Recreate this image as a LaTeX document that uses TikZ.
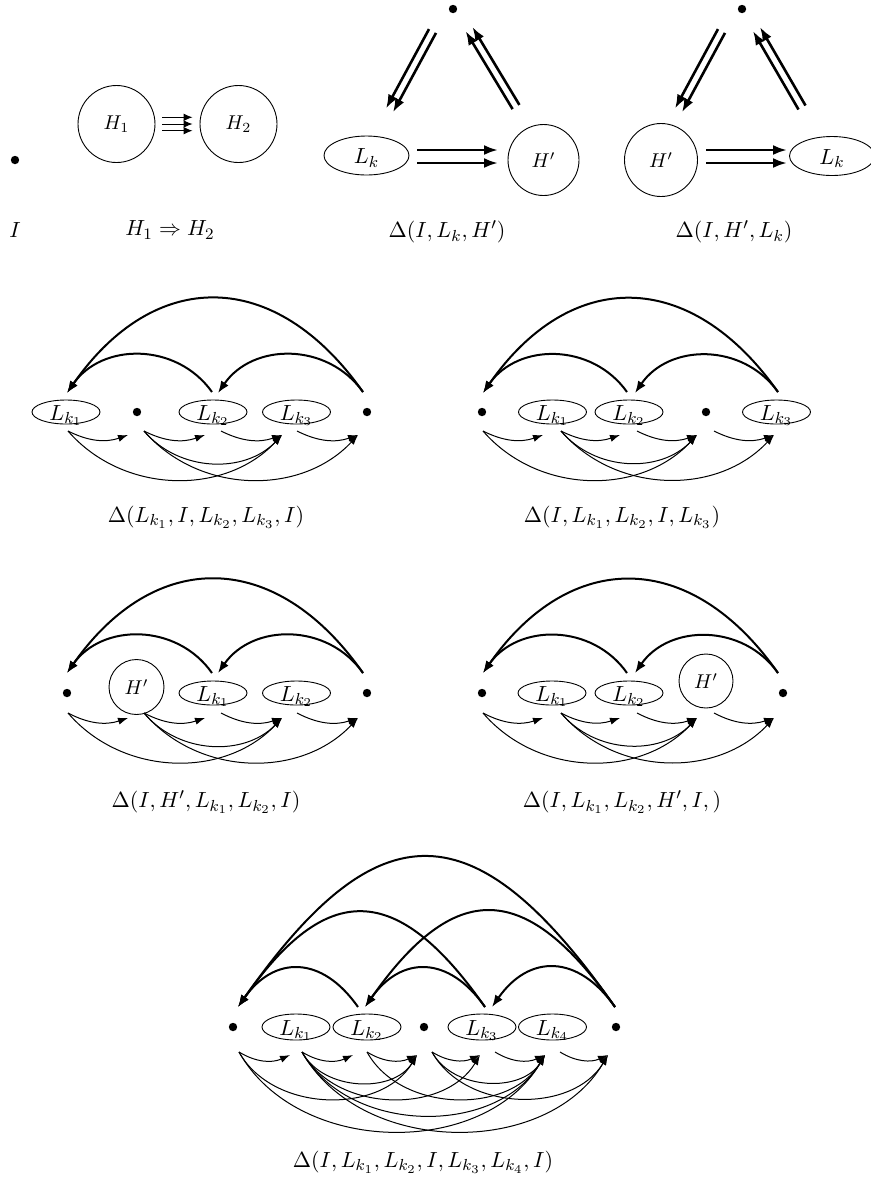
\documentclass[tikz,border=0pt]{standalone}
\usetikzlibrary{shapes.geometric,arrows.meta}
\newcommand{\mkp}[3]{\coordinate (#1#2) at ([shift={(#3)}]#1.center);}
\newcommand{\Lk}[1]{$L_{k_{#1}}$}
\begin{document}
\begin{tikzpicture}[x=0.5pt,y=0.5pt,
  dot/.style={circle,fill=black,inner sep=0pt,minimum size=4.2pt},
  hc/.style={circle,draw,inner sep=0pt,line width=0.45pt},
  le/.style={ellipse,draw,inner sep=0pt,line width=0.45pt,text height=8pt,text depth=0pt,font=\fontsize{10.95}{13.6}\selectfont},
  les/.style={le,minimum width=34pt,minimum height=12pt},
  lbl/.style={font=\fontsize{10.95}{13.6}\selectfont},
  thk/.style={line width=1pt,-{Latex[length=6pt,width=4.5pt]}},
  thn/.style={line width=0.5pt,-{Latex[length=5pt,width=3.6pt]}},
  dbl/.style={line width=1.3pt,-{Latex[length=7pt,width=5pt]}},
  tri/.style={line width=0.5pt,-{Latex[length=4.5pt,width=3.8pt]}},
]
\path[use as bounding box] (0,0) rectangle (871,-1180);

% ---------- top row ----------
\node[dot] (i0) at (15,-160) {};
\node[lbl] (li0) at (15,-230) {$I$};
\node[hc,minimum size=38.5pt] (h1) at (116.5,-124) {$H_1$};
\node[hc,minimum size=38.5pt] (h2) at (238.5,-124) {$H_2$};
\foreach \d in {6.7,0,-6.7} \draw[tri] ([shift={(7,\d)}]h1.east) -- ([shift={(-7,\d)}]h2.west);
\node[lbl] (lh) at (170,-230) {$H_1 \Rightarrow H_2$};

% triangle 1
\node[dot] (t1) at (453,-9) {};
\node[le,minimum width=42.5pt,minimum height=19.5pt] (a1) at (366.5,-155.5) {$L_k$};
\node[hc,minimum size=35.5pt] (b1) at (543.5,-160) {$H'$};
\draw[dbl] ([shift={(-24.0,-20.1)}]t1.center) -- ([shift={(19.5,46.9)}]a1.center);
\draw[dbl] ([shift={(-17.0,-23.9)}]t1.center) -- ([shift={(26.5,43.1)}]a1.center);
\draw[dbl] ([shift={(50.5,5.5)}]a1.center) -- ([shift={(-45.5,10)}]b1.center);
\draw[dbl] ([shift={(50.5,-7.5)}]a1.center) -- ([shift={(-45.5,-3)}]b1.center);
\draw[dbl] ([shift={(-30.9,50.9)}]b1.center) -- ([shift={(12.6,-22.1)}]t1.center);
\draw[dbl] ([shift={(-24.1,55.1)}]b1.center) -- ([shift={(19.4,-17.9)}]t1.center);
\node[lbl] (lt1) at (447,-232) {$\Delta(I,L_k,H')$};

% triangle 2
\node[dot] (t2) at (742,-9) {};
\node[hc,minimum size=36.5pt] (b2) at (661,-160) {$H'$};
\node[le,minimum width=42.5pt,minimum height=19.5pt] (a2) at (832,-156) {$L_k$};
\draw[dbl] ([shift={(-24.0,-20.1)}]t2.center) -- ([shift={(14.0,51.4)}]b2.center);
\draw[dbl] ([shift={(-17.0,-23.9)}]t2.center) -- ([shift={(21.0,47.6)}]b2.center);
\draw[dbl] ([shift={(45,10)}]b2.center) -- ([shift={(-45,6)}]a2.center);
\draw[dbl] ([shift={(45,-3)}]b2.center) -- ([shift={(-45,-7)}]a2.center);
\draw[dbl] ([shift={(-33.5,46.5)}]a2.center) -- ([shift={(11.0,-22.0)}]t2.center);
\draw[dbl] ([shift={(-26.5,50.5)}]a2.center) -- ([shift={(18.0,-18.0)}]t2.center);
\node[lbl] (lt2) at (734,-232) {$\Delta(I,H',L_k)$};

% ---------- row 2 left ----------
\node[les] (p0) at (66,-412) {\Lk1};
\node[dot] (p1) at (137,-412) {};
\node[les] (p2) at (213,-412) {\Lk2};
\node[les] (p3) at (296.5,-412) {\Lk3};
\node[dot] (p4) at (367,-412) {};
\mkp{p0}{s}{2,-19}\mkp{p1}{s}{7,-19}\mkp{p2}{s}{8,-19}\mkp{p3}{s}{0.5,-19}
\mkp{p1}{t}{-9,-23}\mkp{p2}{t}{-8,-23}\mkp{p3}{t}{-14.5,-23}\mkp{p4}{t}{-9,-23}
\mkp{p2}{u}{-1,20}\mkp{p4}{u}{-4,20}
\mkp{p0}{v}{1,19}\mkp{p2}{v}{5,19}
\draw[thn] (p0s) to[bend right=23] (p1t);
\draw[thn] (p1s) to[bend right=23] (p2t);
\draw[thn] (p2s) to[bend right=23] (p3t);
\draw[thn] (p3s) to[bend right=23] (p4t);
\draw[thn] (p0s) to[bend right=48] (p3t);
\draw[thn] (p1s) to[bend right=48] (p3t);
\draw[thn] (p1s) to[bend right=48] (p4t);
\draw[thk] (p2u) to[bend right=55,looseness=1.08] (p0v);
\draw[thk] (p4u) to[bend right=55,looseness=1.08] (p2v);
\draw[thk] (p4u) to[bend right=55,looseness=1.32] (p0v);
\node[lbl] (lp) at (206,-517) {$\Delta(L_{k_1},I,L_{k_2},L_{k_3},I)$};

% ---------- row 2 right ----------
\node[dot] (q0) at (482,-412) {};
\node[les] (q1) at (552.5,-412) {\Lk1};
\node[les] (q2) at (629,-412) {\Lk2};
\node[dot] (q3) at (706,-412) {};
\node[les] (q4) at (776.5,-412) {\Lk3};
\mkp{q0}{s}{1,-19}\mkp{q1}{s}{8.5,-19}\mkp{q2}{s}{8,-19}\mkp{q3}{s}{8,-19}
\mkp{q1}{t}{-9.5,-23}\mkp{q2}{t}{-9,-23}\mkp{q3}{t}{-9,-23}\mkp{q4}{t}{-2.5,-23}
\mkp{q2}{u}{-2,20}\mkp{q4}{u}{1.5,20}
\mkp{q0}{v}{1,19}\mkp{q2}{v}{6,19}
\draw[thn] (q0s) to[bend right=23] (q1t);
\draw[thn] (q1s) to[bend right=23] (q2t);
\draw[thn] (q2s) to[bend right=23] (q3t);
\draw[thn] (q3s) to[bend right=23] (q4t);
\draw[thn] (q0s) to[bend right=48] (q3t);
\draw[thn] (q1s) to[bend right=48] (q3t);
\draw[thn] (q1s) to[bend right=48] (q4t);
\draw[thk] (q2u) to[bend right=55,looseness=1.08] (q0v);
\draw[thk] (q4u) to[bend right=55,looseness=1.08] (q2v);
\draw[thk] (q4u) to[bend right=55,looseness=1.32] (q0v);
\node[lbl] (lq) at (622,-517) {$\Delta(I,L_{k_1},L_{k_2},I,L_{k_3})$};

% ---------- row 3 left ----------
\node[dot] (r0) at (67,-693) {};
\node[hc,minimum size=27.5pt] (r1) at (136.5,-687) {$H'$};
\node[les] (r2) at (213,-693) {\Lk1};
\node[les] (r3) at (296.5,-693) {\Lk2};
\node[dot] (r4) at (367,-693) {};
\mkp{r0}{s}{1,-20}\mkp{r1}{s}{7.5,-26}\mkp{r2}{s}{8,-20}\mkp{r3}{s}{0.5,-20}
\mkp{r1}{t}{-8.5,-31}\mkp{r2}{t}{-8,-25}\mkp{r3}{t}{-14.5,-25}\mkp{r4}{t}{-9,-25}
\mkp{r2}{u}{-1,20}\mkp{r4}{u}{-4,20}
\mkp{r0}{v}{0,20}\mkp{r2}{v}{5,20}
\draw[thn] (r0s) to[bend right=23] (r1t);
\draw[thn] (r1s) to[bend right=23] (r2t);
\draw[thn] (r2s) to[bend right=23] (r3t);
\draw[thn] (r3s) to[bend right=23] (r4t);
\draw[thn] (r0s) to[bend right=48] (r3t);
\draw[thn] (r1s) to[bend right=48] (r3t);
\draw[thn] (r1s) to[bend right=48] (r4t);
\draw[thk] (r2u) to[bend right=55,looseness=1.08] (r0v);
\draw[thk] (r4u) to[bend right=55,looseness=1.08] (r2v);
\draw[thk] (r4u) to[bend right=55,looseness=1.32] (r0v);
\node[lbl] (lr) at (206,-802) {$\Delta(I,H',L_{k_1},L_{k_2},I)$};

% ---------- row 3 right ----------
\node[dot] (s0) at (482,-693) {};
\node[les] (s1) at (552,-693) {\Lk1};
\node[les] (s2) at (629,-693) {\Lk2};
\node[hc,minimum size=27pt] (s3) at (706,-681) {$H'$};
\node[dot] (s4) at (783,-693) {};
\mkp{s0}{s}{1,-20}\mkp{s1}{s}{9,-20}\mkp{s2}{s}{8,-20}\mkp{s3}{s}{8,-32}
\mkp{s1}{t}{-9,-25}\mkp{s2}{t}{-9,-25}\mkp{s3}{t}{-9,-37}\mkp{s4}{t}{-9,-25}
\mkp{s2}{u}{-2,20}\mkp{s4}{u}{-5,20}
\mkp{s0}{v}{1,20}\mkp{s2}{v}{6,20}
\draw[thn] (s0s) to[bend right=23] (s1t);
\draw[thn] (s1s) to[bend right=23] (s2t);
\draw[thn] (s2s) to[bend right=23] (s3t);
\draw[thn] (s3s) to[bend right=23] (s4t);
\draw[thn] (s0s) to[bend right=48] (s3t);
\draw[thn] (s1s) to[bend right=48] (s3t);
\draw[thn] (s1s) to[bend right=48] (s4t);
\draw[thk] (s2u) to[bend right=55,looseness=1.08] (s0v);
\draw[thk] (s4u) to[bend right=55,looseness=1.08] (s2v);
\draw[thk] (s4u) to[bend right=55,looseness=1.32] (s0v);
\node[lbl] (ls) at (622,-802) {$\Delta(I,L_{k_1},L_{k_2},H',I,)$};

% ---------- row 4 ----------
\node[dot] (u0) at (233,-1027) {};
\node[les,minimum height=13pt] (u1) at (296,-1027) {\Lk1};
\node[les,minimum height=13pt] (u2) at (367,-1027) {\Lk2};
\node[dot] (u3) at (424,-1027) {};
\node[les,minimum height=13pt] (u4) at (482,-1027) {\Lk3};
\node[les,minimum height=13pt] (u5) at (552.5,-1027) {\Lk4};
\node[dot] (u6) at (616,-1027) {};
\mkp{u0}{s}{6,-25}\mkp{u1}{s}{6,-25}\mkp{u2}{s}{0,-25}\mkp{u3}{s}{8,-25}\mkp{u4}{s}{13,-25}\mkp{u5}{s}{7.5,-25}
\mkp{u1}{t}{-6,-28}\mkp{u2}{t}{-14,-28}\mkp{u3}{t}{-7,-28}\mkp{u4}{t}{-2,-28}\mkp{u5}{t}{-7.5,-28}\mkp{u6}{t}{-8,-28}
\mkp{u2}{u}{-9,20}\mkp{u4}{u}{3,20}\mkp{u6}{u}{-1,20}
\mkp{u0}{v}{5,20}\mkp{u2}{v}{-2,20}\mkp{u4}{v}{10,20}
\draw[thn] (u0s) to[bend right=28] (u1t);
\draw[thn] (u1s) to[bend right=28] (u2t);
\draw[thn] (u2s) to[bend right=28] (u3t);
\draw[thn] (u3s) to[bend right=28] (u4t);
\draw[thn] (u4s) to[bend right=28] (u5t);
\draw[thn] (u5s) to[bend right=28] (u6t);
\draw[thn] (u0s) to[bend right=60] (u3t);
\draw[thn] (u1s) to[bend right=60] (u3t);
\draw[thn] (u1s) to[bend right=60] (u4t);
\draw[thn] (u2s) to[bend right=60] (u5t);
\draw[thn] (u3s) to[bend right=60] (u5t);
\draw[thn] (u3s) to[bend right=60] (u6t);
\draw[thn] (u0s) to[bend right=60] (u5t);
\draw[thn] (u1s) to[bend right=60] (u5t);
\draw[thn] (u1s) to[bend right=60] (u6t);
\draw[thk] (u2u) to[bend right=55,looseness=1.35] (u0v);
\draw[thk] (u4u) to[bend right=55,looseness=1.35] (u2v);
\draw[thk] (u6u) to[bend right=55,looseness=1.35] (u4v);
\draw[thk] (u4u) to[bend right=55,looseness=1.6] (u0v);
\draw[thk] (u6u) to[bend right=55,looseness=1.6] (u2v);
\draw[thk] (u6u) to[bend right=55,looseness=1.66] (u0v);
\node[lbl] (lu) at (423,-1162) {$\Delta(I,L_{k_1},L_{k_2},I,L_{k_3},L_{k_4},I)$};
\end{tikzpicture}
\end{document}
